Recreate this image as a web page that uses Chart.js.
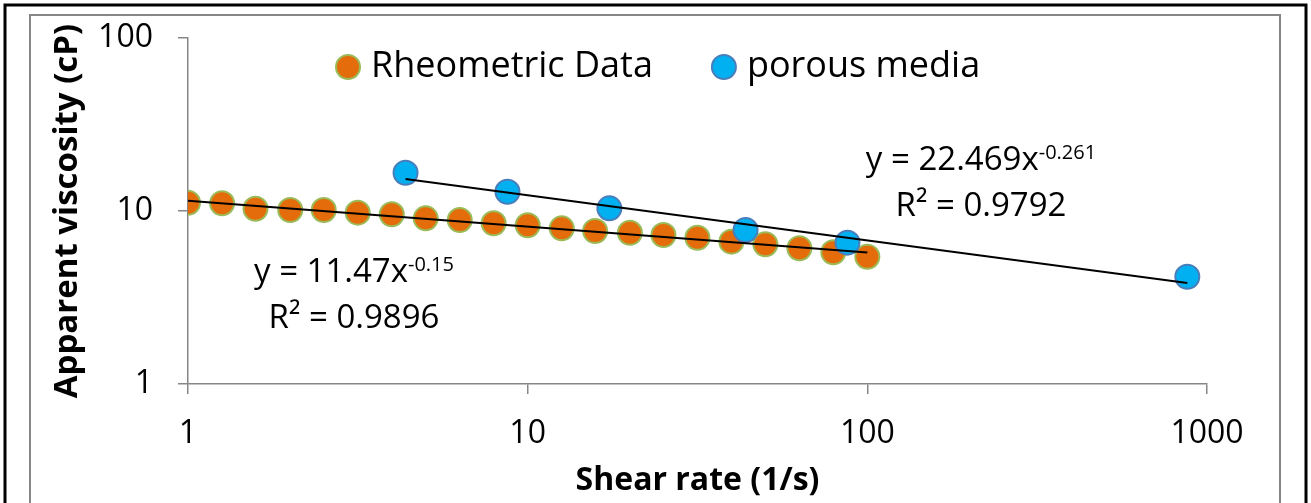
<!DOCTYPE html>
<html>
<head>
<meta charset="utf-8">
<title>Apparent viscosity vs shear rate</title>
<script src="https://cdn.jsdelivr.net/npm/chart.js@4.4.0/dist/chart.umd.min.js"></script>
<style>
  html, body { margin: 0; padding: 0; background: #fff; }
  canvas { display: block; }
</style>
</head>
<body>
<canvas id="viscChart" width="1311" height="503"></canvas>
<script>
// rheometer sweep
const shearRate = [1, 1.26, 1.58, 2, 2.51, 3.16, 3.98, 5.01, 6.31, 7.94, 10,
  12.6, 15.8, 20, 25.1, 31.6, 39.8, 50.1, 63.1, 79.4, 100];
const rheoViscosity = [11.17, 11.08, 10.31, 10.13, 10.13, 9.78, 9.57, 9.07, 8.87, 8.49, 8.27,
  7.94, 7.66, 7.49, 7.27, 7.01, 6.65, 6.42, 6.09, 5.77, 5.44];

// core flood (porous media)
const porousShear = [4.37, 8.72, 17.4, 43.8, 87.4, 875];
const porousViscosity = [16.65, 12.93, 10.36, 7.77, 6.56, 4.17];

// power-law fits y = a * x^b, with R²
const rheoFit = { a: 11.47, b: -0.15, r2: '0.9896', aText: '11.47', bText: '-0.15' };
const porousFit = { a: 22.469, b: -0.261, r2: '0.9792', aText: '22.469', bText: '-0.261' };

const xTicks = [1, 10, 100, 1000];
const yTicks = [1, 10, 100];

const FONT = "'Open Sans', 'Noto Sans', sans-serif";
const AXIS_GREY = '#868686';

function fitLine(xs, fit) {
  const lo = Math.min(...xs), hi = Math.max(...xs);
  return [lo, hi].map(x => ({ x: x, y: fit.a * Math.pow(x, fit.b) }));
}

function toPoints(xs, ys) {
  return xs.map((x, i) => ({ x: x, y: ys[i] }));
}

// white page with the outer black frame and the grey chart border
const framePlugin = {
  id: 'frame',
  beforeDraw(chart) {
    const ctx = chart.ctx;
    ctx.save();
    ctx.fillStyle = '#fff';
    ctx.fillRect(0, 0, chart.width, chart.height);
    ctx.strokeStyle = '#000';
    ctx.lineWidth = 3;
    ctx.strokeRect(5, 5, chart.width - 10, chart.height + 20);
    ctx.strokeStyle = AXIS_GREY;
    ctx.lineWidth = 2;
    ctx.strokeRect(30, 15, 1250, chart.height + 20);
    ctx.restore();
  }
};

// equation labels for the two trendlines
function drawEquation(ctx, cx, baseY, fit) {
  const main = 'y = ' + fit.aText + 'x';
  ctx.font = '33px ' + FONT;
  const wMain = ctx.measureText(main).width;
  ctx.font = '20px ' + FONT;
  const wSup = ctx.measureText(fit.bText).width;
  const left = cx - (wMain + wSup) / 2;
  ctx.textAlign = 'left';
  ctx.textBaseline = 'alphabetic';
  ctx.font = '33px ' + FONT;
  ctx.fillText(main, left, baseY);
  ctx.font = '20px ' + FONT;
  ctx.fillText(fit.bText, left + wMain, baseY - 11);
  ctx.font = '33px ' + FONT;
  ctx.textAlign = 'center';
  ctx.fillText('R\u00B2 = ' + fit.r2, cx, baseY + 46);
}

const labelPlugin = {
  id: 'fitLabels',
  afterDatasetsDraw(chart) {
    const ctx = chart.ctx;
    ctx.save();
    ctx.fillStyle = '#000';
    drawEquation(ctx, 354, 282, rheoFit);
    drawEquation(ctx, 981, 170, porousFit);
    ctx.restore();
  }
};

// legend sits inside the plot area, data series in back-to-front order
const legendPlugin = {
  id: 'innerLegend',
  afterDatasetsDraw(chart) {
    const ctx = chart.ctx;
    const items = chart.data.datasets
      .filter(d => d.inLegend)
      .sort((a, b) => b.order - a.order);
    let x = 348;
    const y = 67;
    ctx.save();
    ctx.font = '36px ' + FONT;
    ctx.textBaseline = 'middle';
    ctx.textAlign = 'left';
    items.forEach(d => {
      ctx.beginPath();
      ctx.arc(x, y, 12, 0, Math.PI * 2);
      ctx.fillStyle = d.backgroundColor;
      ctx.fill();
      ctx.lineWidth = 2;
      ctx.strokeStyle = d.borderColor;
      ctx.stroke();
      ctx.fillStyle = '#000';
      ctx.fillText(d.label, x + 23, y);
      x += 23 + ctx.measureText(d.label).width + 71;
    });
    ctx.restore();
  }
};

const tickStyle = {
  display: true,
  drawOnChartArea: false,
  drawTicks: true,
  tickLength: 10,
  color: AXIS_GREY,
  lineWidth: 1.5
};

new Chart(document.getElementById('viscChart'), {
  type: 'scatter',
  data: {
    datasets: [
      {
        label: 'Rheometric Data trend',
        data: fitLine(shearRate, rheoFit),
        showLine: true,
        borderColor: '#000',
        borderWidth: 2,
        pointRadius: 0,
        order: 0
      },
      {
        label: 'porous media trend',
        data: fitLine(porousShear, porousFit),
        showLine: true,
        borderColor: '#000',
        borderWidth: 2,
        pointRadius: 0,
        order: 0
      },
      {
        label: 'porous media',
        inLegend: true,
        data: toPoints(porousShear, porousViscosity),
        backgroundColor: '#00B0F0',
        borderColor: '#4A7EBB',
        borderWidth: 2,
        pointRadius: 12,
        order: 1
      },
      {
        label: 'Rheometric Data',
        inLegend: true,
        data: toPoints(shearRate, rheoViscosity),
        backgroundColor: '#E46C0A',
        borderColor: '#9BBB59',
        borderWidth: 2,
        pointRadius: 12,
        order: 2
      }
    ]
  },
  options: {
    responsive: false,
    animation: false,
    layout: { padding: { left: 0, top: 38, right: 104, bottom: 0 } },
    plugins: {
      legend: { display: false },
      tooltip: { enabled: false }
    },
    scales: {
      x: {
        type: 'logarithmic',
        min: 1,
        max: 1000,
        afterBuildTicks: s => { s.ticks = xTicks.map(v => ({ value: v })); },
        afterFit: s => { s.height = 119; },
        ticks: {
          color: '#000',
          font: { family: FONT, size: 32 },
          padding: 21,
          maxRotation: 0,
          callback: v => String(v)
        },
        grid: tickStyle,
        border: { color: AXIS_GREY, width: 1.5 },
        title: {
          display: true,
          text: 'Shear rate (1/s)',
          color: '#000',
          font: { family: FONT, size: 32, weight: 'bold' },
          padding: { top: 0, bottom: 3 }
        }
      },
      y: {
        type: 'logarithmic',
        min: 1,
        max: 100,
        afterBuildTicks: s => { s.ticks = yTicks.map(v => ({ value: v })); },
        afterFit: s => {
          s.width = 188;
          // keep the label gap from pushing the plot area down
          s.paddingTop = 10;
          s.paddingBottom = 10;
        },
        ticks: {
          color: '#000',
          font: { family: FONT, size: 32 },
          padding: 25,
          callback: v => String(v)
        },
        grid: tickStyle,
        border: { color: AXIS_GREY, width: 1.5 },
        title: {
          display: true,
          text: 'Apparent viscosity (cP)',
          color: '#000',
          font: { family: FONT, size: 33, weight: 'bold' },
          padding: { top: 48, bottom: 0 }
        }
      }
    }
  },
  plugins: [framePlugin, labelPlugin, legendPlugin]
});
</script>
</body>
</html>
